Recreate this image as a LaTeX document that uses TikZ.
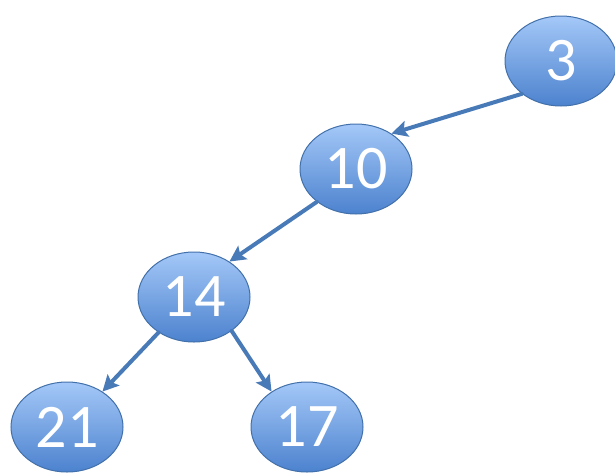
\documentclass[tikz,border=0pt]{standalone}
\usepackage{fontspec}
\setmainfont{Carlito}
\usepackage{tikz}
\usetikzlibrary{arrows.meta,shapes.geometric}
\definecolor{skytop}{RGB}{164,200,248}
\definecolor{skybot}{RGB}{76,130,206}
\definecolor{rim}{RGB}{66,112,170}
\definecolor{wire}{RGB}{72,122,184}
\tikzset{
  >={Stealth[length=16pt,width=16pt,inset=3pt]},
  key/.style={ellipse,draw=rim,line width=1pt,top color=skytop,bottom color=skybot,
    minimum width=112pt,minimum height=90pt,inner sep=0pt,text=white,
    font=\fontsize{62}{64}\selectfont},
  link/.style={->,line width=4pt,draw=wire,line cap=round},
}
\begin{document}
\begin{tikzpicture}[x=1pt,y=-1pt]
  \useasboundingbox (0,0) rectangle (615,475);
  % keys of the tree
  \node[key] (n3) at (561,61) {3};
  \node[key] (n10) at (356,169) {10};
  \node[key] (n14) at (194,297) {14};
  \node[key] (n21) at (67,427) {21};
  \node[key] (n17) at (307,427) {17};
  % parent links
  \draw[link] (n3.220) -- (n10.45);
  \draw[link] (n10.220) -- (n14.45);
  \draw[link] (n14.225) -- (n21.45);
  \draw[link] (n14.-42) -- (n17.135);
\end{tikzpicture}
\end{document}
